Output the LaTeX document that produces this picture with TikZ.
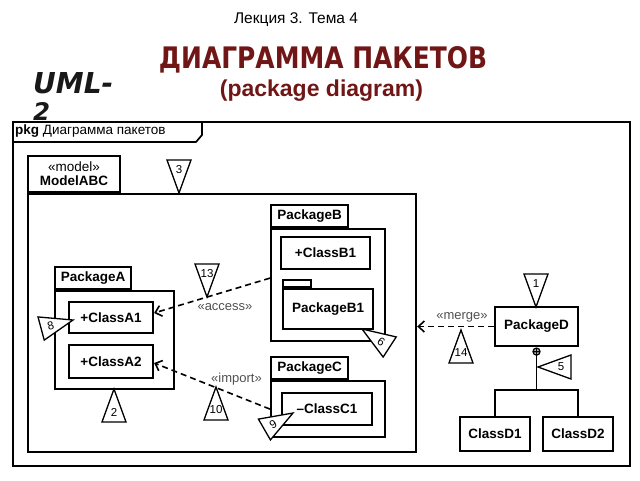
\documentclass[tikz,border=0pt]{standalone}
\usepackage{fontspec}
\usepackage{graphicx}
\setmainfont{Liberation Sans}
\newfontfamily\titlefont{DejaVu Sans}
\usetikzlibrary{arrows.meta,calc}

\definecolor{titlered}{RGB}{112,22,22}
\definecolor{labelgray}{RGB}{80,80,80}

\tikzset{
  pkgbody/.style={draw, line width=2.2pt, anchor=north west, inner sep=0pt,
    font=\fontsize{13.5}{16}\selectfont\bfseries},
  pkgtab/.style={draw, line width=2.2pt, anchor=south west, inner sep=0pt,
    font=\fontsize{13.5}{16}\selectfont\bfseries},
  classbox/.style={draw, line width=2.2pt, inner sep=0pt,
    font=\fontsize{13.5}{16}\selectfont\bfseries},
  depline/.style={line width=1.6pt, dash pattern=on 6pt off 4pt,
    -{Straight Barb[length=6pt,width=11pt]}},
  deplabel/.style={text=labelgray, inner sep=0pt, font=\fontsize{13}{15}\selectfont},
  notetri/.style={line width=1.3pt, fill=white},
}

% triangulo de nota: x y del vertice, direccion, giro del texto, numero
\newcommand{\notemark}[5]{%
  \begin{scope}[shift={(#1,#2)}, rotate=#3]
    \draw [notetri] (0,0) -- (-33,12) -- (-33,-12) -- cycle;
    \node[rotate=#4, inner sep=0pt, font=\fontsize{11.5}{12}\selectfont] at (-23,0) {#5};
  \end{scope}}

\begin{document}
\begin{tikzpicture}[x=1pt, y=-1pt]
  \useasboundingbox (0,0) rectangle (640,480);

  % Marco pkg
  \node[draw, line width=1.7pt, anchor=north west, inner sep=0pt,
    minimum width=617pt, minimum height=344pt] (frame) at (12,121) {};
  \draw [line width=1.7pt] ([yshift=-21pt]frame.north west) -- ++(184,0) -- ++(6,-7) -- ++(0,-14);
  \node[anchor=west, inner sep=0pt, font=\fontsize{13.5}{16}\selectfont] (frametitle) at (15,131.5)
    {\textbf{pkg} Диаграмма пакетов};

  % Titulos
  \node[inner sep=0pt] (lecture) at (296,20) {\fontsize{15.5}{18}\selectfont Лекция 3. Тема 4};
  \node[text=titlered, anchor=north, inner sep=0pt] (title) at (323,46)
    {\resizebox{328pt}{22pt}{\titlefont\bfseries ДИАГРАММА ПАКЕТОВ}};
  \node[text=titlered, inner sep=0pt] (subtitle) at (321.5,90.5)
    {\fontsize{23}{26}\selectfont\bfseries (package diagram)};
  \node[text=black!90, anchor=north west, inner sep=0pt] (uml) at (33,72)
    {\resizebox{80pt}{21pt}{\titlefont\bfseries\itshape UML-}};
  \node[text=black!90, anchor=north west, inner sep=0pt] (umlnum) at (33,102)
    {\resizebox{17pt}{18pt}{\titlefont\bfseries\itshape 2}};

  % ModelABC
  \node[pkgbody, minimum width=388pt, minimum height=258pt] (model) at (27,193) {};
  \node[pkgtab, minimum width=92pt, minimum height=36pt, align=center,
    font=\fontsize{13.5}{14}\selectfont] (modeltab) at (model.north west)
    {«model»\\\textbf{ModelABC}};

  % PackageB
  \node[pkgbody, minimum width=114pt, minimum height=112pt] (pkgB) at (270,228) {};
  \node[pkgtab, minimum width=77pt, minimum height=22pt] (pkgBtab) at (pkgB.north west) {PackageB};
  \node[classbox, minimum width=89pt, minimum height=32pt] (clsB1) at (325.5,253) {+ClassB1};
  \node[pkgbody, minimum width=90pt, minimum height=40pt] (pkgB1) at (282,288) {PackageB1};
  \node[pkgtab, minimum width=28pt, minimum height=7pt, line width=1.6pt] (pkgB1tab) at (pkgB1.north west) {};

  % PackageA
  \node[pkgbody, minimum width=119pt, minimum height=98pt] (pkgA) at (54,290) {};
  \node[pkgtab, minimum width=76pt, minimum height=22pt] (pkgAtab) at (pkgA.north west) {PackageA};
  \node[classbox, minimum width=84pt, minimum height=31pt] (clsA1) at (111,317.5) {+ClassA1};
  \node[classbox, minimum width=84pt, minimum height=33pt] (clsA2) at (111,361.5) {+ClassA2};

  % PackageC
  \node[pkgbody, minimum width=114pt, minimum height=56pt] (pkgC) at (270,380) {};
  \node[pkgtab, minimum width=77pt, minimum height=22pt] (pkgCtab) at (pkgC.north west) {PackageC};
  \node[classbox, minimum width=90pt, minimum height=32pt] (clsC1) at (327,409) {–ClassC1};

  % PackageD
  \node[classbox, minimum width=83pt, minimum height=39pt] (pkgD) at (536.5,326.5) {PackageD};
  \node[classbox, minimum width=70pt, minimum height=34pt] (clsD1) at (495,434) {ClassD1};
  \node[classbox, minimum width=70pt, minimum height=34pt] (clsD2) at (578,434) {ClassD2};

  % Dependencias
  \draw [depline] ([yshift=7pt]pkgB.west) -- ([yshift=4.5pt]clsA1.east);
  \node[deplabel] (access) at (225,307) {«access»};
  \draw [depline] (pkgC.west) -- ([yshift=-1.5pt]clsA2.east);
  \node[deplabel] (import) at (236.5,379) {«import»};
  \draw [depline] (pkgD.west) -- (pkgD.west -| model.east);
  \node[deplabel] (merge) at (462,317) {«merge»};

  % Contencion
  \coordinate (plus) at ([yshift=-4.5pt]pkgD.south);
  \coordinate (bus) at (536.5,390);
  \draw [line width=1.3pt] (plus) circle (3.5pt)
    (plus) +(-3.5,0) -- +(3.5,0) (plus) +(0,-3.5) -- +(0,3.5);
  \draw [line width=1.6pt] ([yshift=-3.5pt]plus) -- (bus);
  \draw [line width=1.6pt] (clsD1.north) |- (bus) -| (clsD2.north);

  % Notas
  \notemark{536}{307}{-90}{0}{1}
  \notemark{179}{193}{-90}{0}{3}
  \notemark{207}{297}{-90}{0}{13}
  \notemark{114}{389}{90}{0}{2}
  \notemark{216}{387}{90}{0}{10}
  \notemark{461}{330}{90}{0}{14}
  \notemark{538}{367}{180}{0}{5}
  \notemark{73}{320}{15}{15}{8}
  \notemark{293}{413}{30}{30}{9}
  \notemark{362}{329}{147}{-33}{6}
\end{tikzpicture}
\end{document}
